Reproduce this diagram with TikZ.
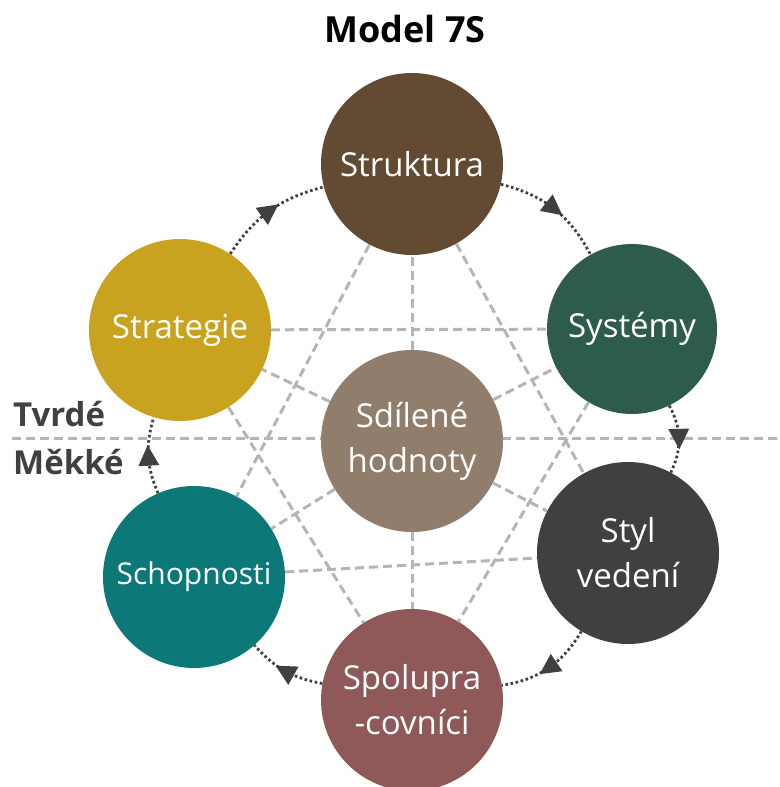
\documentclass[tikz,border=0pt]{standalone}
\usepackage{fontspec}
\setmainfont{Open Sans}
\usepackage{tikz}
\usetikzlibrary{decorations.markings}
\usetikzlibrary{positioning}
\definecolor{mbrown}{rgb}{0.39, 0.29, 0.20}
\definecolor{mgold}{rgb}{0.79, 0.64, 0.12}
\definecolor{mgreen}{rgb}{0.18, 0.36, 0.29}
\definecolor{mtaupe}{rgb}{0.57, 0.49, 0.42}
\definecolor{mgrey}{rgb}{0.25, 0.25, 0.25}
\definecolor{mteal}{rgb}{0.05, 0.47, 0.47}
\definecolor{mrose}{rgb}{0.56, 0.35, 0.35}
\definecolor{mdash}{rgb}{0.71, 0.71, 0.71}
\tikzset{cyclearrow/.style = {mgrey, line width=2.8, dash pattern=on 2.6pt off 2.6pt,
                              decoration={markings,
                                          mark=at position 0.5 with {\fill [mgrey, solid] (-10pt, 10.5pt) -- (10.5pt, 0pt) -- (-10pt, -10.5pt) -- cycle;}},
                              postaction={decorate}}}
\tikzset{spoke/.style = {mdash, line width=3, dash pattern=on 9pt off 5pt}}
\tikzset{blob/.style = {circle, minimum size=182, inner sep=0, text=white,
                        align=center, font=\fontsize{33}{45}\selectfont}}
\tikzset{side/.style = {anchor=base west, inner sep=0, text=mgrey,
                        font=\bfseries\fontsize{33}{36}\selectfont}}

\begin{document}
\begin{tikzpicture}[x=1pt, y=1pt]
          \useasboundingbox (0, 0) rectangle (779, 787);
          \coordinate (lineL) at (12, 348);
          \coordinate (lineR) at (779, 348);
          \draw [spoke] (lineL) -- (lineR);
          \node (title) [anchor=base, font=\bfseries\fontsize{36}{40}\selectfont] at (405, 744) {Model 7S};
          \node (tvrde) [side] at (13, 360) {Tvrdé};
          \node (mekke) [side] at (13, 312) {Měkké};

          \node (struktura) [blob, fill=mbrown] at (412, 623) {Struktura};
          \node (strategie) [blob, fill=mgold] at (180, 457) {Strategie};
          \node (systemy) [blob, fill=mgreen, minimum size=170] at (632, 458) {Systémy};
          \node (sdilene) [blob, fill=mtaupe] at (412, 346) {Sdílené\\hodnoty};
          \node (styl) [blob, fill=mgrey] at (628, 234) {Styl\\vedení};
          \node (schopnosti) [blob, fill=mteal, font=\fontsize{30}{45}\selectfont] at (194, 210) {Schopnosti};
          \node (spolupra) [blob, fill=mrose] at (412, 87) {Spolupra\\-covníci};

          \draw [spoke] (sdilene) -- (struktura);
          \draw [spoke] (sdilene) -- (strategie);
          \draw [spoke] (sdilene) -- (systemy);
          \draw [spoke] (sdilene) -- (styl);
          \draw [spoke] (sdilene) -- (schopnosti);
          \draw [spoke] (sdilene) -- (spolupra);
          \draw [spoke] (struktura) -- (schopnosti);
          \draw [spoke] (struktura) -- (styl);
          \draw [spoke] (strategie) -- (systemy);
          \draw [spoke] (strategie) -- (spolupra);
          \draw [spoke] (systemy) -- (spolupra);
          \draw [spoke] (schopnosti) -- (styl);

          \draw [cyclearrow] (strategie) to [bend left=21] (struktura);
          \draw [cyclearrow] (struktura) to [bend left=24] (systemy);
          \draw [cyclearrow] (systemy) to [bend left=27] (styl);
          \draw [cyclearrow] (styl) to [bend left=25] (spolupra);
          \draw [cyclearrow] (spolupra) to [bend left=19] (schopnosti);
          \draw [cyclearrow] (schopnosti) to [bend left=20] (strategie);
        \end{tikzpicture}
\end{document}
